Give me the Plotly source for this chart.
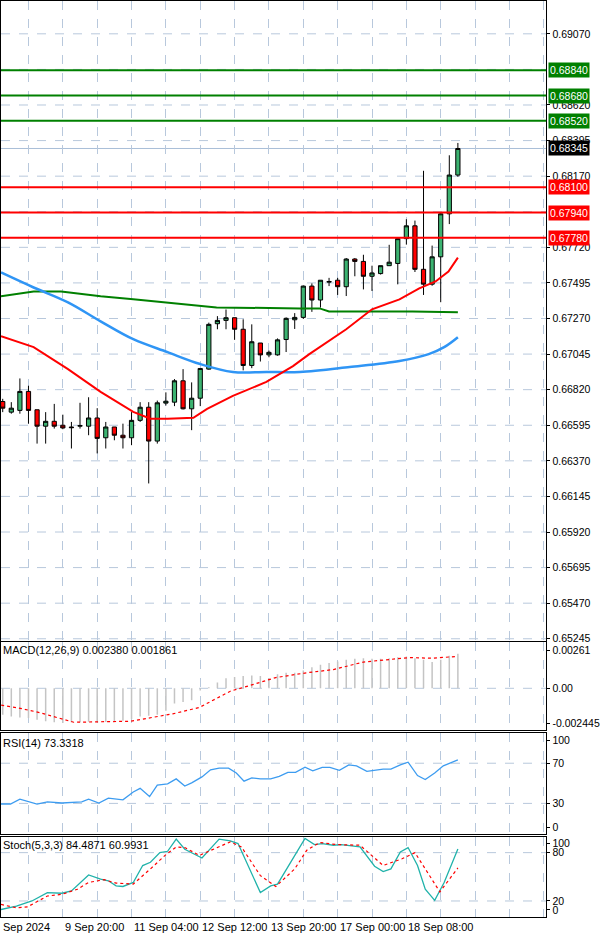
import plotly.graph_objects as go

# ---------------- data ----------------
opens = [0.66745,0.66678,0.66689,0.66809,0.66693,0.66589,0.66620,0.66595,0.66584,0.66589,
         0.66589,0.66641,0.66516,0.66584,0.66532,0.66516,0.66626,0.66709,0.66495,0.66735,
         0.66741,0.66876,0.66699,0.66766,0.66950,0.67237,0.67258,0.67275,0.67202,0.66973,
         0.67115,0.67040,0.67040,0.67137,0.67262,0.67277,0.67475,0.67387,0.67500,0.67512,
         0.67471,0.67646,0.67631,0.67537,0.67554,0.67604,0.67618,0.67775,0.67856,0.67581,
         0.67487,0.67660,0.67932,0.68177]
highs = [0.66762,0.66741,0.66891,0.66845,0.66693,0.66678,0.66730,0.66662,0.66616,0.66737,
         0.66772,0.66703,0.66616,0.66584,0.66605,0.66678,0.66741,0.66741,0.66751,0.66803,
         0.66887,0.66950,0.66866,0.66954,0.67244,0.67285,0.67327,0.67275,0.67265,0.67233,
         0.67115,0.67067,0.67144,0.67277,0.67304,0.67479,0.67492,0.67512,0.67527,0.67527,
         0.67652,0.67652,0.67673,0.67604,0.67604,0.67736,0.67785,0.67898,0.67889,0.68204,
         0.67731,0.67936,0.68302,0.68380]
lows = [0.66678,0.66668,0.66668,0.66605,0.66479,0.66479,0.66574,0.66570,0.66448,0.66574,
        0.66532,0.66417,0.66448,0.66500,0.66448,0.66469,0.66616,0.66227,0.66479,0.66720,
        0.66716,0.66695,0.66564,0.66716,0.66946,0.67202,0.67202,0.67135,0.66942,0.66956,
        0.66998,0.67025,0.67035,0.67058,0.67204,0.67267,0.67312,0.67339,0.67475,0.67419,
        0.67412,0.67537,0.67454,0.67444,0.67548,0.67604,0.67486,0.67737,0.67564,0.67419,
        0.67477,0.67373,0.67867,0.68166]
closes = [0.66703,0.66703,0.66809,0.66689,0.66589,0.66620,0.66589,0.66578,0.66580,0.66593,
          0.66641,0.66512,0.66584,0.66532,0.66516,0.66626,0.66709,0.66495,0.66737,0.66747,
          0.66876,0.66699,0.66766,0.66954,0.67233,0.67258,0.67275,0.67202,0.66973,0.67123,
          0.67040,0.67056,0.67135,0.67271,0.67277,0.67475,0.67387,0.67512,0.67504,0.67471,
          0.67646,0.67631,0.67537,0.67558,0.67604,0.67626,0.67775,0.67856,0.67581,0.67487,
          0.67660,0.67932,0.68177,0.68345]

ma_red_x = [-0.2,3.6,7.6,11.4,15.2,17.2,19.2,22.2,23.8,26.8,30.7,33.8,35.7,40,43,46.2,48.5,50.4,51.9,53]
ma_red_y = [0.67158,0.67089,0.66950,0.66806,0.66680,0.66636,0.66636,0.66642,0.66699,0.66781,
            0.66869,0.66969,0.67045,0.67202,0.67328,0.67391,0.67460,0.67504,0.67567,0.67655]
ma_blue_x = [-0.2,3.6,7.6,11.4,15.2,19.2,23,26.8,30.7,34.6,40.4,46.2,49.6,51.4,53]
ma_blue_y = [0.67561,0.67466,0.67372,0.67252,0.67139,0.67057,0.66982,0.66932,0.66932,0.66932,
             0.66963,0.67001,0.67045,0.67089,0.67152]
ma_green_x = [-0.2,3.6,6.8,11.4,15.2,21,24.9,34.6,36.9,38,47.7,53]
ma_green_y = [0.67410,0.67441,0.67441,0.67410,0.67391,0.67359,0.67340,0.67334,0.67334,0.67315,0.67315,0.67309]

res_levels = [0.68840, 0.68680, 0.68520]
sup_levels = [0.68100, 0.67940, 0.67780]
last_price = 0.68345
price_ticks = [0.69295,0.69070,0.68620,0.68395,0.68170,0.67720,0.67495,0.67270,0.67045,
               0.66820,0.66595,0.66370,0.66145,0.65920,0.65695,0.65470,0.65245]
price_grid = [0.69295,0.69070,0.68845,0.68620,0.68395,0.68170,0.67945,0.67720,0.67495,0.67270,0.67045,
              0.66820,0.66595,0.66370,0.66145,0.65920,0.65695,0.65470,0.65245]

macd_hist = [-0.00183,-0.00194,-0.00201,-0.00205,-0.00216,-0.00227,-0.00234,-0.00239,-0.00234,-0.00234,
             -0.00230,-0.00234,-0.00232,-0.00227,-0.00223,-0.00212,-0.00194,-0.00190,-0.00183,-0.00154,
             -0.00105,-0.00094,-0.00083,-0.00016,0.00007,0.00040,0.00069,0.00078,0.00085,0.00089,
             0.00085,0.00069,0.00096,0.00107,0.00107,0.00123,0.00145,0.00163,0.00174,0.00185,
             0.00196,0.00203,0.00207,0.00203,0.00203,0.00207,0.00214,0.00219,0.00207,0.00196,
             0.00181,0.00196,0.00225,0.00238]
macd_sig_x = [-0.18,2.04,4.27,6.49,8.27,14.9,17.6,19.8,22.9,26.5,28.7,31.8,35.4,38.5,42,44.3,47.4,50,52.7]
macd_sig_y = [-0.00116,-0.00138,-0.00167,-0.00205,-0.00234,-0.00227,-0.00201,-0.00176,-0.00132,-0.00020,
              0.00018,0.00074,0.00107,0.00129,0.00181,0.00196,0.00212,0.00207,0.00219]

rsi_x = [-0.2,0.9,2.0,4.0,5.2,6.9,9.2,10.0,11.2,12.3,14.0,15.2,16.0,17.1,18.0,19.2,20.2,21.2,22.0,23.2,
         24.2,25.2,26.3,27.2,28.1,29.0,30.0,31.2,32.2,33.2,34.1,35.2,36.1,37.2,38.1,39.2,40.3,41.2,42.4,43.4,
         44.3,45.2,46.3,47.2,48.3,49.2,50.3,51.3,52.3,53]
rsi_y = [29.4,29.4,34.2,29.4,31.6,30.4,31.6,34.2,30.4,35.2,33.6,41.4,45,36.8,48.2,49.5,54.4,47.3,50.5,56.4,
         63.5,65.1,65.1,60.3,52.1,55.4,54.4,54.4,57,60.9,60.9,66.1,62.5,65.8,65.8,62.9,68.4,67.4,61.9,62.9,
         64.2,64.2,68.4,71,57.7,53.8,60.3,67.4,70.7,73.3]

stk_x = [-0.2,1.6,3.4,5.2,6.9,8.0,10.0,11.4,12.3,13.2,14.0,15.2,16.3,17.2,18.3,19.2,20.2,21.2,23.2,25.2,
         26.5,27.4,30.0,31.2,32.0,35.2,36.3,37.2,38.5,39.4,41.6,43.3,44.3,45.2,46.3,47.2,48.3,49.2,50.3,51.4,53]
stk_y = [9.4,13.6,20,30.4,29.6,32.5,52.3,47.2,45.1,38.8,38,43,64,68,80,81.7,96.8,84.2,73.3,96.8,
         94.7,91.3,30.4,38.8,41,97.6,90,91.3,89.2,90,87.1,63.2,56.5,59.8,80.8,86.3,64,34.6,20.8,43,84.5]
std_x = [-0.2,1.6,2.9,5.2,6.9,8.7,10.0,11.8,13.2,15.2,17.2,18.9,20.2,21.2,22.9,24.7,26.5,27.8,30.0,31.8,
         34.0,35.4,36.9,38.9,41.6,44.3,46.5,48.0,49.2,50.9,53]
std_y = [15.7,11.5,12.8,26.2,28.3,34.6,43,46.4,42.2,41,59.8,76.6,87.1,86.3,76.6,85,93.4,87.1,51.4,38,
         59.8,82.9,92.6,90,89.2,64,72.4,80,59.8,31.3,61.0]

time_labels = ["Sep 2024", "9 Sep 20:00", "11 Sep 04:00", "12 Sep 12:00", "13 Sep 20:00", "17 Sep 00:00", "18 Sep 08:00"]
time_label_idx = [-1, 7, 15, 23, 31, 39, 47]
grid_idx = list(range(3, 64, 4))

# ---------------- figure ----------------
W, H = 600, 939
XR = [-0.2, 63.3]
XD = [0, 549 / W]
def dom(top_px, bot_px):
    return [1 - bot_px / H, 1 - top_px / H]

FONT = "Liberation Sans"
GRID = "#b8c8dc"
idx = list(range(len(opens)))

fig = go.Figure()
fig.add_trace(go.Candlestick(x=idx, open=opens, high=highs, low=lows, close=closes,
    increasing=dict(fillcolor="#3cb371", line=dict(color="black", width=1)),
    decreasing=dict(fillcolor="#ff0000", line=dict(color="black", width=1)),
    whiskerwidth=0, xaxis="x", yaxis="y", showlegend=False))
fig.add_trace(go.Scatter(x=ma_green_x, y=ma_green_y, mode="lines", line=dict(color="#008000", width=2), xaxis="x", yaxis="y"))
fig.add_trace(go.Scatter(x=ma_blue_x, y=ma_blue_y, mode="lines", line=dict(color="#2f95f5", width=2.5, shape="spline"), xaxis="x", yaxis="y"))
fig.add_trace(go.Scatter(x=ma_red_x, y=ma_red_y, mode="lines", line=dict(color="#ff0000", width=2), xaxis="x", yaxis="y"))

hx, hy = [], []
for i, v in zip(idx, macd_hist):
    hx += [i, i, None]
    hy += [0, v, None]
fig.add_trace(go.Scatter(x=hx, y=hy, mode="lines", line=dict(color="#c4c4c4", width=1.5), xaxis="x2", yaxis="y2"))
fig.add_trace(go.Scatter(x=macd_sig_x, y=macd_sig_y, mode="lines", line=dict(color="#ff0000", width=1.2, dash="dot"), xaxis="x2", yaxis="y2"))
fig.add_trace(go.Scatter(x=rsi_x, y=rsi_y, mode="lines", line=dict(color="#3d9cf0", width=1.3), xaxis="x3", yaxis="y3"))
fig.add_trace(go.Scatter(x=stk_x, y=stk_y, mode="lines", line=dict(color="#20b2aa", width=1.3), xaxis="x4", yaxis="y4"))
fig.add_trace(go.Scatter(x=std_x, y=std_y, mode="lines", line=dict(color="#ff0000", width=1.2, dash="dot"), xaxis="x4", yaxis="y4"))

def xax(anchor):
    return dict(range=XR, domain=XD, anchor=anchor, tickvals=grid_idx, showticklabels=False,
                showgrid=True, gridcolor=GRID, griddash="dash", gridwidth=1, zeroline=False,
                showline=True, linecolor="black", linewidth=1, mirror=True, ticks="",
                rangeslider=dict(visible=False), fixedrange=True)
def yax(anchor, d, rng, tv, tt):
    return dict(domain=d, range=rng, anchor=anchor, side="right", tickvals=tv, ticktext=tt,
                ticks="outside", ticklen=3, tickcolor="black", showgrid=False, zeroline=False,
                showline=True, linecolor="black", linewidth=1, mirror=True,
                tickfont=dict(family=FONT, size=10.5, color="black"))

fig.update_layout(
    width=W, height=H, margin=dict(l=0, r=0, t=0, b=0), showlegend=False,
    paper_bgcolor="white", plot_bgcolor="white",
    xaxis=xax("y"), xaxis2=xax("y2"), xaxis3=xax("y3"), xaxis4=xax("y4"),
    yaxis=yax("x", dom(0, 643), [0.69070 - 610 / 15900, 0.69070 + 33 / 15900], price_ticks,
              [f"{v:.5f}" for v in price_ticks]),
    yaxis2=yax("x2", dom(644, 733), [-0.00288, 0.00322], [0.00261, 0, -0.002445], ["0.00261", "0.00", "-0.002445"]),
    yaxis3=yax("x3", dom(736, 837), [0, 100], [93, 70, 30, 6], ["100", "70", "30", "0"]),
    yaxis4=yax("x4", dom(840, 921), [0, 100], [91, 80, 20, 9], ["100", "80", "20", "0"]),
)

shapes = []
def hline(y, yref, color, width, dash=None):
    shapes.append(dict(type="line", xref="x", yref=yref, x0=XR[0], x1=XR[1], y0=y, y1=y,
                       line=dict(color=color, width=width, dash=dash), layer="below"))
for g in price_grid:
    hline(g, "y", GRID, 1, "dash")
hline(0, "y2", GRID, 1, "dash")
for g in [70, 30]:
    hline(g, "y3", GRID, 1, "dash")
for g in [80, 20]:
    hline(g, "y4", GRID, 1, "dash")
hline(last_price, "y", "#a9bfd8", 1)
for lv in res_levels:
    shapes.append(dict(type="line", xref="x", yref="y", x0=XR[0], x1=XR[1], y0=lv, y1=lv, line=dict(color="#008000", width=2)))
for lv in sup_levels:
    shapes.append(dict(type="line", xref="x", yref="y", x0=XR[0], x1=XR[1], y0=lv, y1=lv, line=dict(color="#ff0000", width=2)))
fig.update_layout(shapes=shapes)

ann = []
def tag(v, bg):
    ann.append(dict(xref="paper", yref="y", x=551 / W, y=v, xanchor="left", yanchor="middle",
                    text=f"{v:.5f}", showarrow=False, bgcolor=bg, borderpad=1,
                    font=dict(family=FONT, size=10.5, color="white")))
for lv in res_levels:
    tag(lv, "#008000")
for lv in sup_levels:
    tag(lv, "#ff0000")
tag(last_price, "#000000")

def title(txt, yref, yv):
    ann.append(dict(xref="paper", yref=yref, x=0, y=yv, xanchor="left", yanchor="middle", text=txt,
                    showarrow=False, font=dict(family=FONT, size=11, color="black")))
title("MACD(12,26,9) 0.002380 0.001861", "y2", 0.00261)
title("RSI(14) 73.3318", "y3", 90)
title("Stoch(5,3,3) 84.4871 60.9931", "y4", 90)

for t, i in zip(time_labels, time_label_idx):
    ann.append(dict(xref="x4" if i >= 0 else "paper", yref="paper", x=i if i >= 0 else 0, y=1 - 931 / H,
                    xanchor="left", yanchor="middle", text=t, showarrow=False,
                    font=dict(family=FONT, size=11, color="black")))
fig.update_layout(annotations=ann)

fig.write_html("out.html", config={"displayModeBar": False},
               post_script="document.body.style.margin='0';document.body.style.overflow='hidden';")
